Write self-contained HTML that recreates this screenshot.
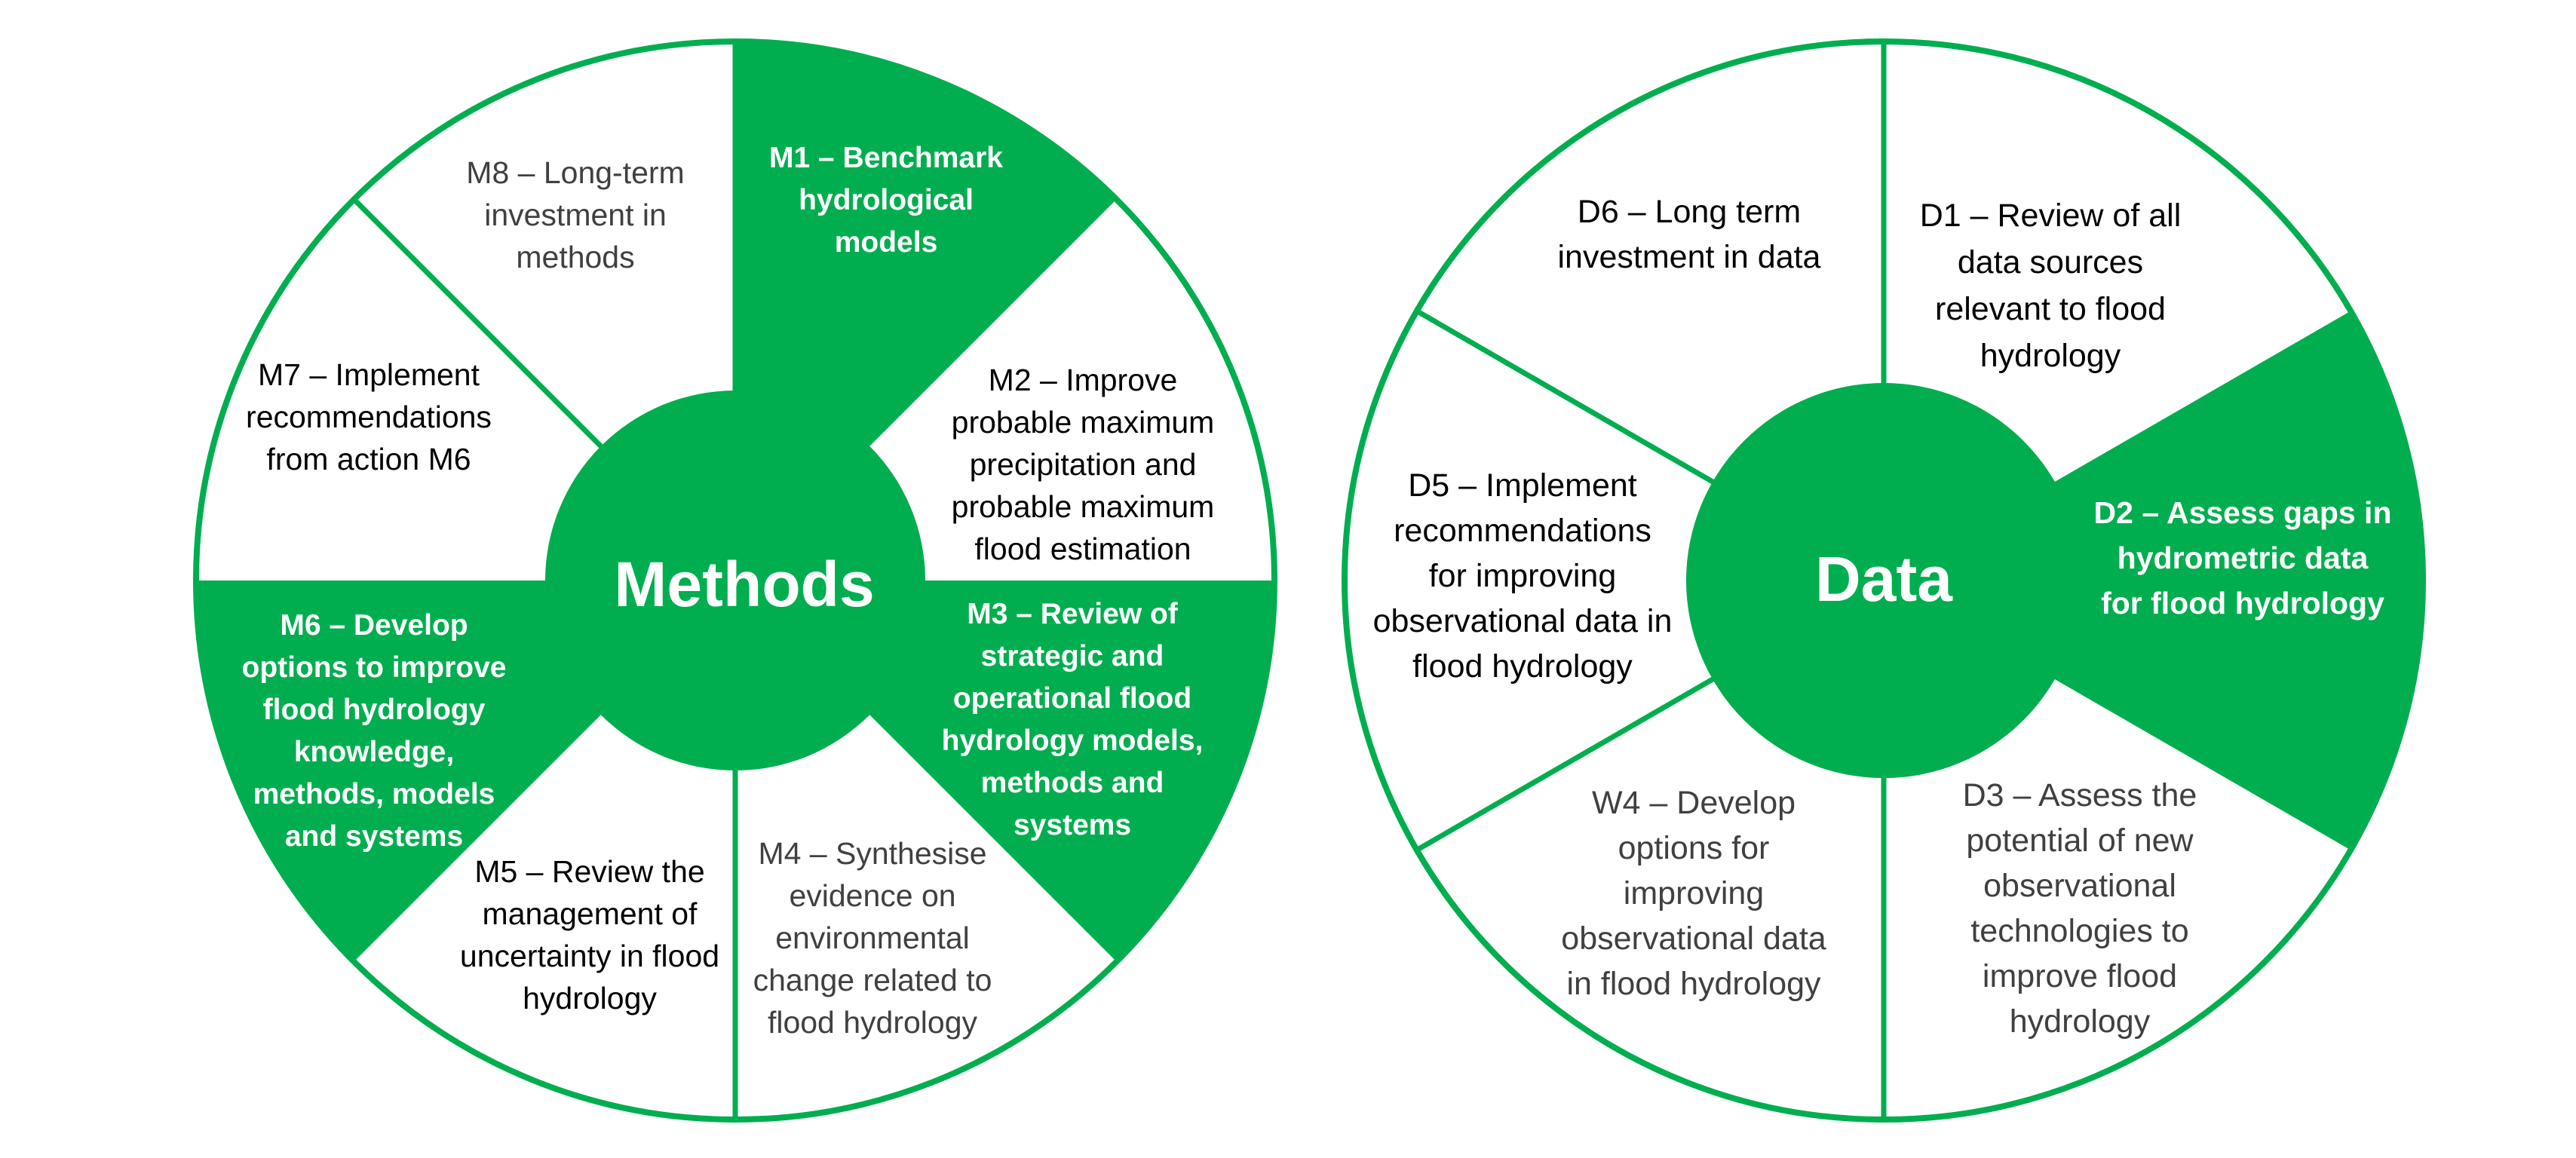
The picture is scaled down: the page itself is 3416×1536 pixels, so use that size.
<!DOCTYPE html>
<html><head><meta charset="utf-8"><style>
html,body{margin:0;padding:0;background:#fff}
#c{position:relative;width:3416px;height:1536px;overflow:hidden;font-family:"Liberation Sans",sans-serif}
svg{position:absolute;left:0;top:0}
.t{position:absolute;width:520px;text-align:center;white-space:nowrap}
.l{font-size:41px;line-height:56px}
.r{font-size:43px;line-height:60px}
.k{color:#000}.g{color:#404040}
.w{color:#fff;font-weight:bold}
.b{font-size:39px}
.big{position:absolute;width:600px;text-align:center;color:#fff;font-weight:bold;font-size:84px;line-height:100px}
</style></head><body><div id="c">
<svg width="3416" height="1536" viewBox="0 0 3416 1536">
<g fill="#00AE4F">
<path d="M975,770 L975,55 A715,715 0 0 1 1480.6,264.4 Z"/>
<path d="M975,770 L1690,770 A715,715 0 0 1 1480.6,1275.6 Z"/>
<path d="M975,770 L469.4,1275.6 A715,715 0 0 1 260,770 Z"/>
<path d="M2498,770 L3117.2,412.5 A715,715 0 0 1 3117.2,1127.5 Z"/>
</g>
<g stroke="#00AE4F" stroke-width="7" fill="none">
<line x1="975" y1="770" x2="975" y2="55"/>
<line x1="975" y1="770" x2="975" y2="1485"/>
<line x1="975" y1="770" x2="469.4" y2="264.4"/>
<line x1="2498" y1="770" x2="2498" y2="55"/>
<line x1="2498" y1="770" x2="2498" y2="1485"/>
<line x1="2498" y1="770" x2="1878.8" y2="412.5"/>
<line x1="2498" y1="770" x2="1878.8" y2="1127.5"/>
<circle cx="975" cy="770" r="715" stroke-width="8"/>
<circle cx="2498" cy="770" r="715" stroke-width="8"/>
</g>
<circle cx="975" cy="770" r="252" fill="#00AE4F"/>
<circle cx="2498" cy="770" r="262" fill="#00AE4F"/>
</svg>

<div class="big" style="left:687px;top:725px">Methods</div>
<div class="big" style="left:2198px;top:718px">Data</div>

<div class="t l g" style="left:503px;top:201px">M8 – Long-term<br>investment in<br>methods</div>
<div class="t l w b" style="left:915px;top:182px">M1 – Benchmark<br>hydrological<br>models</div>
<div class="t l k" style="left:1176px;top:476px">M2 – Improve<br>probable maximum<br>precipitation and<br>probable maximum<br>flood estimation</div>
<div class="t l k" style="left:229px;top:469px">M7 – Implement<br>recommendations<br>from action M6</div>
<div class="t l w b" style="left:236px;top:802px">M6 – Develop<br>options to improve<br>flood hydrology<br>knowledge,<br>methods, models<br>and systems</div>
<div class="t l w b" style="left:1162px;top:787px">M3 – Review of<br>strategic and<br>operational flood<br>hydrology models,<br>methods and<br>systems</div>
<div class="t l k" style="left:522px;top:1128px">M5 – Review the<br>management of<br>uncertainty in flood<br>hydrology</div>
<div class="t l g" style="left:897px;top:1104px">M4 – Synthesise<br>evidence on<br>environmental<br>change related to<br>flood hydrology</div>

<div class="t r k" style="left:1980px;top:251px">D6 – Long term<br>investment in data</div>
<div class="t r k" style="left:2459px;top:255px;line-height:62px">D1 – Review of all<br>data sources<br>relevant to flood<br>hydrology</div>
<div class="t r k" style="left:1759px;top:614px">D5 – Implement<br>recommendations<br>for improving<br>observational data in<br>flood hydrology</div>
<div class="t r w" style="left:2714px;top:650px;font-size:41px">D2 – Assess gaps in<br>hydrometric data<br>for flood hydrology</div>
<div class="t r g" style="left:1986px;top:1035px">W4 – Develop<br>options for<br>improving<br>observational data<br>in flood hydrology</div>
<div class="t r g" style="left:2498px;top:1025px">D3 – Assess the<br>potential of new<br>observational<br>technologies to<br>improve flood<br>hydrology</div>
</div></body></html>
